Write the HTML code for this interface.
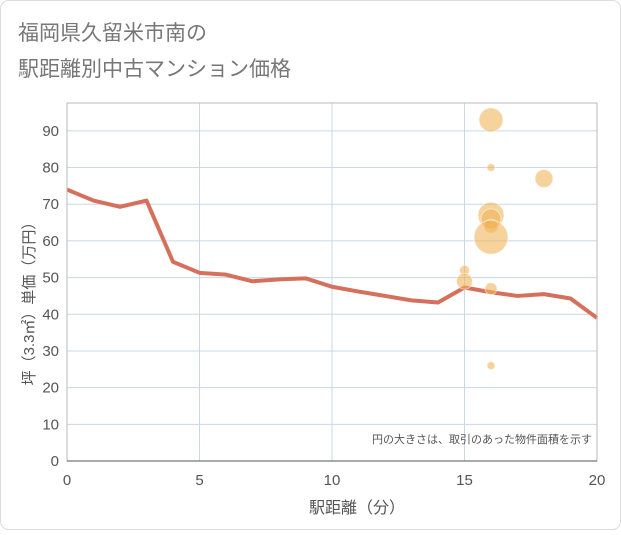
<!DOCTYPE html>
<html><head><meta charset="utf-8"><style>
body{margin:0;background:#fff;}
.w{width:621px;height:530px;position:relative;font-family:"Liberation Sans","Noto Sans CJK JP",sans-serif;}
</style></head><body>
<div class="w">
<svg width="621" height="530">
<rect x="0.5" y="0.5" width="620" height="529" rx="8" fill="#fff" stroke="#ddd"/>
<text x="18" y="40" font-size="21" fill="#777" font-family="Liberation Sans,Noto Sans CJK JP,sans-serif">福岡県久留米市南の</text>
<text x="18" y="76" font-size="21" fill="#777" font-family="Liberation Sans,Noto Sans CJK JP,sans-serif">駅距離別中古マンション価格</text>
<g id="grid"></g><g id="marks"></g><g id="axes"></g>
<text x="592" y="443" font-size="11" fill="#555" text-anchor="end" font-family="Liberation Sans,Noto Sans CJK JP,sans-serif">円の大きさは、取引のあった物件面積を示す</text>
<text x="357" y="513" font-size="16" fill="#555" text-anchor="middle" font-family="Liberation Sans,Noto Sans CJK JP,sans-serif">駅距離（分）</text>
<text transform="translate(34,300) rotate(-90)" font-size="15" fill="#555" text-anchor="middle" font-family="Liberation Sans,Noto Sans CJK JP,sans-serif">坪（3.3㎡）単価（万円）</text>
</svg></div>
<script>
const xTicks=[0,5,10,15,20];
const yTicks=[0,10,20,30,40,50,60,70,80,90];
const lineX=[0,1,2,3,4,5,6,7,8,9,10,11,12,13,14,15,16,17,18,19,20];
const lineY=[74,71,69.3,71,54.3,51.3,50.8,49,49.5,49.8,47.5,46.2,45,43.8,43.2,47.3,46,45,45.5,44.3,39];
const bubX=[16,16,18,16,16,16,16,15,15,16,16];
const bubY=[93,80,77,67,66,64,61,52,49,47,26];
const bubR=[12,4,9,13,10,7,17,5,8,6,4];
const L=67,R=597,T=103,B=461;
const sx=v=>L+(R-L)*v/20, sy=v=>B-(B-T)*v/97.6;
const NS='http://www.w3.org/2000/svg';
function mk(t,a,p){const e=document.createElementNS(NS,t);for(const k in a)e.setAttribute(k,a[k]);p.appendChild(e);return e;}
const g=document.getElementById('grid'),m=document.getElementById('marks'),ax=document.getElementById('axes');
yTicks.forEach(v=>{const l=mk('line',{x1:L,x2:R,y1:sy(v),y2:sy(v),stroke:'#c9d7e6'},g);

const t=mk('text',{x:L-8,y:sy(v)+5,'font-size':15,fill:'#555','text-anchor':'end'},ax);t.textContent=v;
});
xTicks.forEach(v=>{const l=mk('line',{x1:sx(v),x2:sx(v),y1:T,y2:B,stroke:'#c9d7e6'},g);

const t=mk('text',{x:sx(v),y:B+24,'font-size':15,fill:'#555','text-anchor':'middle'},ax);t.textContent=v;
});
const f=mk('rect',{x:L,y:T,width:R-L,height:B-T,fill:'none',stroke:'#bbb'},ax);

const bl=mk('line',{x1:L,x2:R,y1:B,y2:B,stroke:'#555'},ax);

const p=mk('polyline',{points:lineX.map((x,i)=>sx(x)+','+sy(lineY[i])).join(' '),fill:'none',stroke:'#d4705b','stroke-width':4,'stroke-linejoin':'round'},m);

bubX.forEach((x,i)=>{const c=mk('circle',{cx:sx(x),cy:sy(bubY[i]),r:bubR[i],fill:'rgba(240,180,90,0.6)',stroke:'rgba(255,255,255,0.5)'},m);
});
</script>
</body></html>
